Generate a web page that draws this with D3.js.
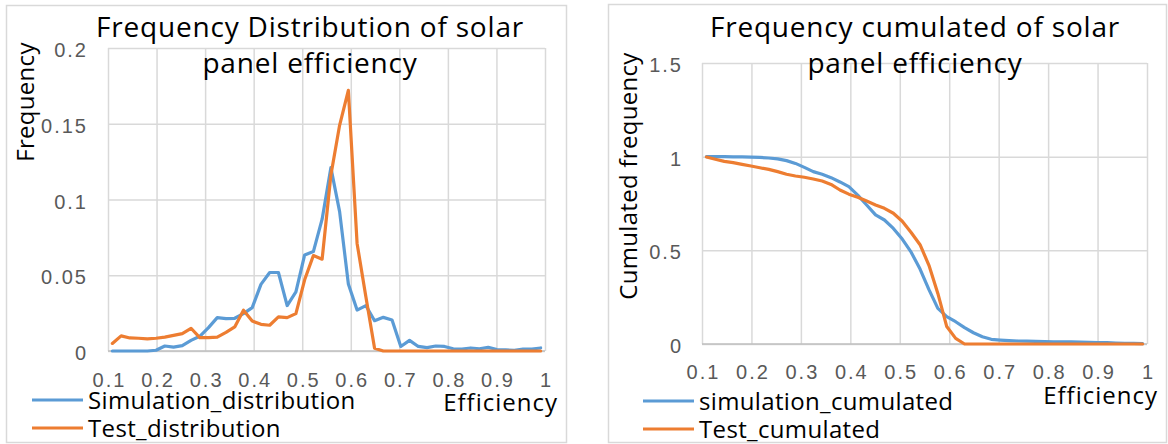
<!DOCTYPE html>
<html>
<head>
<meta charset="utf-8">
<script src="https://cdn.jsdelivr.net/npm/d3@7"></script>
<style>
  body { margin: 0; background: #fff; }
  svg { font-family: "Open Sans", sans-serif; }
</style>
</head>
<body>
<div id="chart"></div>
<script>
// bin centres (efficiency)
var efficiency = [0.109, 0.127, 0.145, 0.163, 0.181, 0.199, 0.217, 0.235, 0.253, 0.271,
                  0.289, 0.307, 0.325, 0.343, 0.361, 0.379, 0.397, 0.415, 0.433, 0.451,
                  0.469, 0.487, 0.505, 0.523, 0.541, 0.559, 0.577, 0.595, 0.613, 0.631,
                  0.649, 0.667, 0.685, 0.703, 0.721, 0.739, 0.757, 0.775, 0.793, 0.811,
                  0.829, 0.847, 0.865, 0.883, 0.901, 0.919, 0.937, 0.955, 0.973, 0.991];

var simulationDistribution = [0, 0, 0, 0, 0, 0.0005, 0.0033, 0.0026, 0.0035, 0.007,
                              0.0097, 0.0154, 0.022, 0.0214, 0.0216, 0.0247, 0.0286, 0.044, 0.0518, 0.0518,
                              0.030, 0.039, 0.0634, 0.0656, 0.087, 0.121, 0.092, 0.0443, 0.027, 0.030,
                              0.020, 0.0222, 0.0205, 0.003, 0.007, 0.003, 0.0022, 0.0033, 0.003, 0.0015,
                              0.0013, 0.002, 0.0015, 0.0024, 0.001, 0.0007, 0.0004, 0.0013, 0.0013, 0.002];

var testDistribution = [0.005, 0.010, 0.0086, 0.0084, 0.008, 0.0084, 0.0092, 0.0103, 0.0115, 0.015,
                        0.0088, 0.0088, 0.0092, 0.0123, 0.0159, 0.0269, 0.0198, 0.0176, 0.017, 0.0225,
                        0.022, 0.0247, 0.047, 0.063, 0.0606, 0.116, 0.149, 0.172, 0.071, 0.036,
                        0.0018, 0, 0, 0, 0, 0, 0, 0, 0, 0,
                        0, 0, 0, 0, 0, 0, 0, 0, 0, 0];

var simulationCumulated = [1.0, 1.0, 1.0, 0.999, 0.999, 0.998, 0.996, 0.993, 0.988, 0.979,
                           0.964, 0.943, 0.92, 0.906, 0.888, 0.865, 0.84, 0.795, 0.742, 0.689,
                           0.662, 0.617, 0.56, 0.49, 0.40, 0.29, 0.19, 0.146, 0.119, 0.087,
                           0.06, 0.039, 0.025, 0.021, 0.018, 0.016, 0.015, 0.014, 0.013, 0.012,
                           0.012, 0.011, 0.010, 0.009, 0.008, 0.007, 0.005, 0.004, 0.003, 0.002];

var testCumulated = [0.998, 0.986, 0.975, 0.968, 0.959, 0.95, 0.941, 0.932, 0.92, 0.906,
                     0.897, 0.89, 0.881, 0.87, 0.852, 0.822, 0.80, 0.783, 0.763, 0.742,
                     0.724, 0.698, 0.655, 0.595, 0.53, 0.42, 0.27, 0.093, 0.03, 0,
                     0, 0, 0, 0, 0, 0, 0, 0, 0, 0,
                     0, 0, 0, 0, 0, 0, 0, 0, 0, 0];

var xTicks = [0.1, 0.2, 0.3, 0.4, 0.5, 0.6, 0.7, 0.8, 0.9, 1];
var distTicks = [0, 0.05, 0.1, 0.15, 0.2];
var cumTicks = [0, 0.5, 1, 1.5];

var blue = "#5B9BD5", orange = "#ED7D31";

var svg = d3.select("#chart").append("svg")
            .attr("width", 1168)
            .attr("height", 444);

function drawChart(o) {
    var g = svg.append("g");

    // chart border
    g.append("rect")
     .attr("x", o.box[0] + 0.5).attr("y", o.box[1] + 0.5)
     .attr("width", o.box[2]).attr("height", o.box[3])
     .attr("fill", "#fff").attr("stroke", "#D9D9D9").attr("stroke-width", 1.5);

    var x = d3.scaleLinear().domain([0.1, 1]).range([o.x0, o.x1]);
    var y = d3.scaleLinear().domain(o.yDomain).range([o.y0, o.y1]);

    // grid + tick labels
    var xAxis = g.append("g")
        .attr("transform", "translate(0," + o.y0 + ")")
        .call(d3.axisBottom(x).tickValues(xTicks).tickSize(-(o.y0 - o.y1))
              .tickPadding(o.xPad).tickFormat(d3.format("")));
    var yAxis = g.append("g")
        .attr("transform", "translate(" + o.x0 + ",0)")
        .call(d3.axisLeft(y).tickValues(o.yTicks).tickSize(-(o.x1 - o.x0))
              .tickPadding(o.yPad).tickFormat(d3.format("")));

    [xAxis, yAxis].forEach(function(a) {
        a.select(".domain").remove();
        a.selectAll(".tick line").attr("stroke", "#D9D9D9").attr("stroke-width", 1.5);
        a.selectAll(".tick text")
         .attr("fill", "#595959")
         .style("font-size", "20px")
         .style("letter-spacing", "2px");
    });
    yAxis.selectAll(".tick text").attr("dy", "0.43em");
    xAxis.selectAll(".tick text").attr("dx", "1px");

    // bottom axis line
    g.append("line")
     .attr("x1", o.x0).attr("x2", o.x1)
     .attr("y1", o.y0).attr("y2", o.y0)
     .attr("stroke", "#BFBFBF").attr("stroke-width", 1.5);

    var line = d3.line()
        .x(function(d) { return x(d[0]); })
        .y(function(d) { return y(d[1]); });

    o.series.forEach(function(s) {
        g.append("path")
         .datum(d3.zip(efficiency, s.values))
         .attr("d", line)
         .attr("fill", "none")
         .attr("stroke", s.color)
         .attr("stroke-width", 3.2)
         .attr("stroke-linejoin", "round")
         .attr("stroke-linecap", "round");
    });

    // title
    o.title.forEach(function(t, i) {
        g.append("text")
         .attr("x", o.titleX).attr("y", 37 + i * 36)
         .attr("text-anchor", "middle")
         .attr("fill", "#000")
         .style("font-size", "28px")
         .style("letter-spacing", "0.8px")
         .text(t);
    });

    // y axis title
    g.append("text")
     .attr("transform", "translate(" + o.yTitle[0] + "," + o.yTitle[1] + ") rotate(-90)")
     .attr("text-anchor", "middle")
     .attr("fill", "#000")
     .style("font-size", "24px")
     .style("letter-spacing", "0.3px")
     .text(o.yLabel);

    // x axis title
    g.append("text")
     .attr("x", o.xTitle[0]).attr("y", o.xTitle[1])
     .attr("text-anchor", "end")
     .attr("fill", "#000")
     .style("font-size", "24px")
     .style("letter-spacing", "1px")
     .text("Efficiency");

    // legend
    o.series.forEach(function(s, i) {
        var ly = o.legend[1] + i * 28;
        g.append("line")
         .attr("x1", o.legend[0]).attr("x2", o.legend[0] + 51)
         .attr("y1", ly).attr("y2", ly)
         .attr("stroke", s.color).attr("stroke-width", 3.2);
        g.append("text")
         .attr("x", o.legend[0] + 56).attr("y", ly + 8.5)
         .attr("fill", "#000")
         .style("font-size", "24px")
         .style("letter-spacing", "0.35px")
         .text(s.name);
    });
}

drawChart({
    box: [6, 5, 560, 437],
    x0: 108, x1: 545, y0: 351, y1: 48,
    yDomain: [0, 0.2], yTicks: distTicks,
    xPad: 22, yPad: 20,
    title: ["Frequency Distribution of solar", "panel efficiency"],
    titleX: 310,
    yLabel: "Frequency", yTitle: [34, 102],
    xTitle: [558, 411],
    legend: [32, 400],
    series: [
        { name: "Simulation_distribution", values: simulationDistribution, color: blue },
        { name: "Test_distribution", values: testDistribution, color: orange }
    ]
});

drawChart({
    box: [608, 4, 558, 438],
    x0: 702, x1: 1147, y0: 344, y1: 63,
    yDomain: [0, 1.5], yTicks: cumTicks,
    xPad: 21, yPad: 19,
    title: ["Frequency cumulated of solar", "panel efficiency"],
    titleX: 915,
    yLabel: "Cumulated frequency", yTitle: [637, 176],
    xTitle: [1158, 404],
    legend: [643, 401],
    series: [
        { name: "simulation_cumulated", values: simulationCumulated, color: blue },
        { name: "Test_cumulated", values: testCumulated, color: orange }
    ]
});
</script>
</body>
</html>
